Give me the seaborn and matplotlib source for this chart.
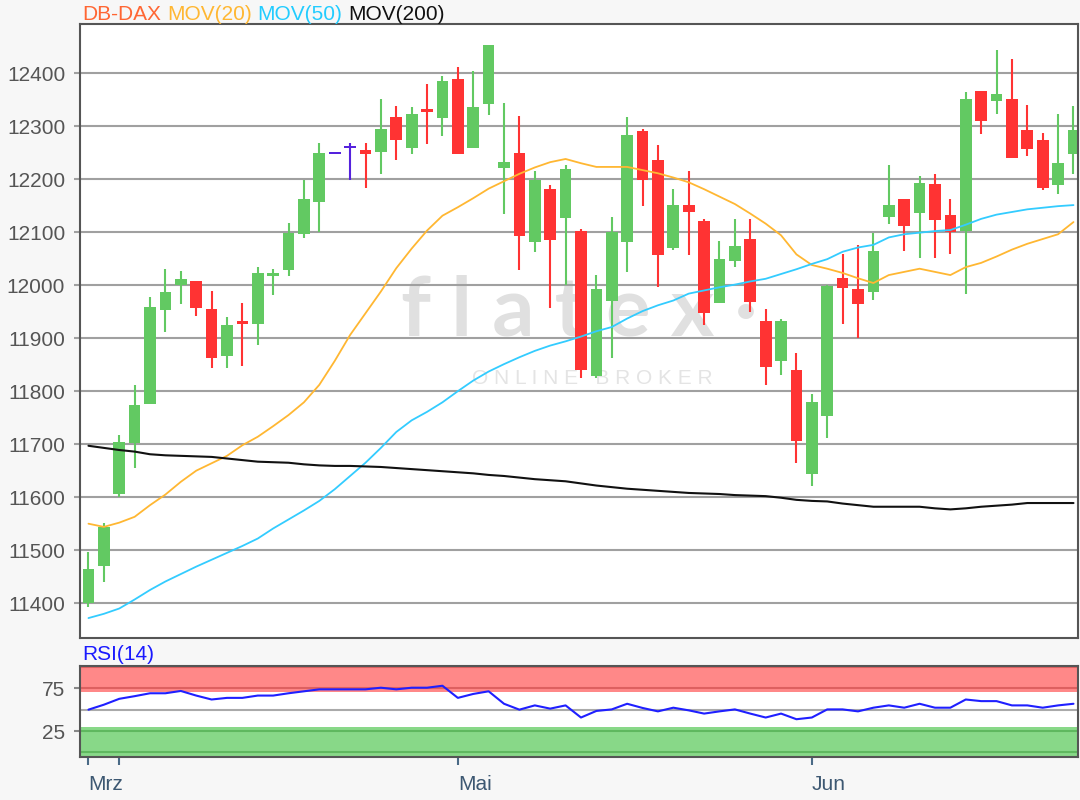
import numpy as np
import pandas as pd
import matplotlib
matplotlib.use("Agg")
import matplotlib.pyplot as plt
import seaborn as sns

# DB-DAX daily candles
opens = [11400, 11471, 11606, 11703, 11776, 11953, 12000, 12008, 11955, 11866,
         11931, 11927, 12017, 12028, 12096, 12156, 12249, 12260, 12254, 12252,
         12318, 12259, 12333, 12316, 12388, 12259, 12342, 12221, 12249, 12081,
         12182, 12126, 12102, 11828, 11971, 12081, 12291, 12237, 12070, 12151,
         12121, 11966, 12045, 12087, 11933, 11857, 11839, 11643, 11753, 12014,
         11992, 11988, 12128, 12163, 12137, 12190, 12133, 12103, 12367, 12347,
         12352, 12292, 12273, 12188, 12248]
highs = [11496, 11551, 11718, 11812, 11977, 12030, 12026, 12008, 11989, 11940,
         11966, 12034, 12030, 12117, 12198, 12269, 12251, 12269, 12269, 12352,
         12337, 12336, 12379, 12394, 12411, 12404, 12453, 12343, 12320, 12216,
         12189, 12227, 12105, 12019, 12128, 12317, 12294, 12264, 12181, 12215,
         12125, 12084, 12125, 12125, 11955, 11937, 11872, 11794, 12001, 12059,
         12076, 12099, 12227, 12163, 12205, 12209, 12163, 12364, 12367, 12443,
         12427, 12340, 12287, 12322, 12337]
lows = [11393, 11440, 11601, 11655, 11776, 11912, 11964, 11941, 11843, 11843,
        11847, 11888, 11982, 12017, 12088, 12101, 12247, 12198, 12183, 12209,
        12236, 12247, 12266, 12282, 12248, 12259, 12321, 12135, 12029, 12062,
        11957, 12001, 11825, 11825, 11862, 12025, 12150, 11996, 12066, 12056,
        11924, 11966, 12034, 11949, 11811, 11830, 11665, 11622, 11712, 11926,
        11901, 11972, 12115, 12065, 12051, 12051, 12059, 11983, 12285, 12323,
        12240, 12244, 12180, 12172, 12210]
closes = [11465, 11543, 11705, 11774, 11958, 11988, 12011, 11957, 11863, 11925,
          11928, 12023, 12022, 12099, 12162, 12249, 12249, 12260, 12247, 12295,
          12274, 12322, 12326, 12385, 12248, 12336, 12453, 12233, 12092, 12199,
          12085, 12219, 11839, 11993, 12101, 12284, 12198, 12056, 12151, 12138,
          11947, 12049, 12073, 11968, 11845, 11933, 11706, 11779, 11999, 11994,
          11964, 12065, 12151, 12112, 12192, 12123, 12101, 12352, 12309, 12360,
          12240, 12256, 12183, 12230, 12292]

mov20 = [11550, 11544, 11552, 11563, 11585, 11605, 11629, 11650, 11664, 11678,
         11698, 11714, 11734, 11755, 11779, 11812, 11857, 11906, 11947, 11988,
         12032, 12069, 12103, 12131, 12147, 12164, 12182, 12196, 12210, 12222,
         12232, 12238, 12230, 12223, 12223, 12223, 12217, 12211, 12203, 12194,
         12181, 12167, 12153, 12135, 12116, 12094, 12058, 12038, 12031, 12023,
         12013, 12004, 12019, 12025, 12031, 12025, 12019, 12034, 12042, 12054,
         12067, 12078, 12087, 12096, 12119]
mov50 = [11372, 11380, 11390, 11407, 11425, 11441, 11455, 11469, 11482, 11495,
         11508, 11522, 11541, 11558, 11575, 11593, 11615, 11640, 11665, 11693,
         11723, 11745, 11761, 11779, 11800, 11820, 11837, 11851, 11864, 11876,
         11886, 11894, 11903, 11913, 11921, 11937, 11951, 11962, 11971, 11984,
         11990, 11996, 12001, 12007, 12012, 12021, 12030, 12040, 12049, 12063,
         12071, 12076, 12090, 12096, 12099, 12102, 12104, 12114, 12125, 12133,
         12138, 12143, 12146, 12149, 12151]
mov200 = [11697, 11693, 11689, 11686, 11681, 11679, 11678, 11677, 11676, 11673,
          11670, 11667, 11666, 11665, 11662, 11660, 11659, 11659, 11658, 11657,
          11655, 11653, 11651, 11649, 11647, 11645, 11642, 11640, 11637, 11634,
          11632, 11630, 11626, 11622, 11619, 11616, 11614, 11612, 11610, 11608,
          11607, 11606, 11604, 11603, 11602, 11599, 11595, 11593, 11592, 11588,
          11585, 11582, 11582, 11582, 11582, 11579, 11577, 11579, 11582, 11584,
          11586, 11589, 11589, 11589, 11589]
rsi14 = [50.0, 55.8, 62.7, 65.8, 69.2, 69.2, 71.9, 66.5, 61.9, 63.8,
         63.8, 66.5, 66.5, 69.2, 71.5, 73.8, 73.8, 73.8, 73.8, 75.7,
         73.8, 75.7, 75.7, 78.0, 63.8, 68.4, 71.5, 56.9, 50.0, 55.0,
         51.2, 55.0, 40.8, 48.5, 50.3, 56.9, 52.0, 48.0, 52.3, 49.2,
         45.4, 48.0, 50.3, 45.4, 40.8, 45.4, 38.8, 40.8, 50.3, 50.3,
         48.0, 52.3, 55.0, 52.3, 56.9, 52.3, 52.3, 61.9, 60.0, 60.0,
         55.0, 55.0, 52.3, 55.0, 56.9]

price_ticks = [11400, 11500, 11600, 11700, 11800, 11900, 12000, 12100, 12200, 12300, 12400]
rsi_ticks = [25, 75]
month_ticks = [0, 2, 24, 47]
month_labels = ["Mrz", "", "Mai", "Jun"]

UP = "#62c962"
DOWN = "#ff3333"
DOJI = "#5522dd"

sns.set_style("white")
plt.rcParams["font.family"] = ["Liberation Sans", "DejaVu Sans"]

df = pd.DataFrame({"open": opens, "high": highs, "low": lows, "close": closes,
                   "mov20": mov20, "mov50": mov50, "mov200": mov200, "rsi": rsi14})
df["idx"] = np.arange(len(df))
df["color"] = np.where(df["close"] > df["open"], UP,
                       np.where(df["close"] < df["open"], DOWN, DOJI))
body_h = (df["close"] - df["open"]).abs().clip(lower=4)
body_lo = df[["open", "close"]].min(axis=1) - (body_h - (df["close"] - df["open"]).abs()) / 2

fig = plt.figure(figsize=(10.8, 8), dpi=100, facecolor="#f7f7f7")
ax = fig.add_axes([0.0745, 0.2029, 0.9236, 0.7667])
rax = fig.add_axes([0.0745, 0.0541, 0.9236, 0.1138])

# --- price panel
ax.set_facecolor("white")
for p in price_ticks:
    ax.axhline(p, color="#a0a0a0", lw=1.5, zorder=1)

ax.vlines(df["idx"], df["low"], df["high"], colors=df["color"], lw=1.5, zorder=2)
ax.bar(df["idx"], body_h, bottom=body_lo, width=0.76, color=df["color"], lw=0, zorder=2)

sns.lineplot(data=df, x="idx", y="mov20", ax=ax, color="#ffb732", lw=1.3, zorder=3, legend=False)
sns.lineplot(data=df, x="idx", y="mov50", ax=ax, color="#33ccff", lw=1.3, zorder=3, legend=False)
sns.lineplot(data=df, x="idx", y="mov200", ax=ax, color="#111111", lw=1.5, zorder=3, legend=False)

# watermark
ax.text(0.5, 0.531, "f l a t e x ·", transform=ax.transAxes, ha="center", va="center",
        fontsize=60, color="#e0e0e0", family="Lato", fontweight="bold", zorder=0.5)
ax.text(0.513, 0.423, "O N L I N E   B R O K E R", transform=ax.transAxes, ha="center",
        va="center", fontsize=15, color="#e4e4e4", zorder=0.5)

ax.set_xlim(-0.52, 64.29)
ax.set_ylim(11335, 12492)
ax.set_yticks(price_ticks)
ax.set_yticklabels([str(p) for p in price_ticks])
ax.set_xticks([])
ax.set_xlabel("")
ax.set_ylabel("")
ax.tick_params(axis="y", left=True, length=4, width=1.5, color="#a0a0a0", pad=7,
               labelsize=15, labelcolor="#555555")
for s in ax.spines.values():
    s.set_color("#555555")
    s.set_linewidth(1.5)

# legend line on top
t = fig.text(82 / 1080, 1 - 24 / 800, "DB-DAX", color="#ff6633", fontsize=15, va="bottom")
for label, col in [("MOV(20)", "#ffb732"), ("MOV(50)", "#22ccff"), ("MOV(200)", "#111111")]:
    t = ax.annotate(label, xy=(1, 0), xycoords=t, xytext=(6, 0), textcoords="offset pixels",
                    color=col, fontsize=15, va="bottom", annotation_clip=False)

# --- RSI panel
rax.set_facecolor("white")
rax.axhspan(71, 102, color="#ff8888", lw=0, zorder=0)
rax.axhspan(-6, 30, color="#88d888", lw=0, zorder=0)
for v in (75, 100):
    rax.axhline(v, color="#dd6060", lw=1.5, zorder=1)
for v in (0, 25):
    rax.axhline(v, color="#5fb85f", lw=1.5, zorder=1)
rax.axhline(50, color="#aaaaaa", lw=1.5, zorder=1)
sns.lineplot(data=df, x="idx", y="rsi", ax=rax, color="#1f1fff", lw=1.5, zorder=3, legend=False)

rax.set_xlim(-0.52, 64.29)
rax.set_ylim(-5.1, 101.5)
rax.set_yticks(rsi_ticks)
rax.set_yticklabels([str(v) for v in rsi_ticks])
rax.set_xticks(month_ticks)
rax.set_xticklabels(month_labels, ha="left")
rax.set_xlabel("")
rax.set_ylabel("")
rax.tick_params(axis="y", left=True, length=4, width=1.5, color="#888888", pad=7,
                labelsize=15, labelcolor="#555555")
rax.tick_params(axis="x", bottom=True, direction="out", length=6, width=1.5, color="#4a6a86",
                pad=7, labelsize=15, labelcolor="#3d5872")
for s in rax.spines.values():
    s.set_color("#555555")
    s.set_linewidth(1.5)

fig.text(82 / 1080, 1 - 664 / 800, "RSI(14)", color="#1a1aff", fontsize=15, va="bottom")

fig.savefig("out.png", dpi=100, facecolor=fig.get_facecolor())
